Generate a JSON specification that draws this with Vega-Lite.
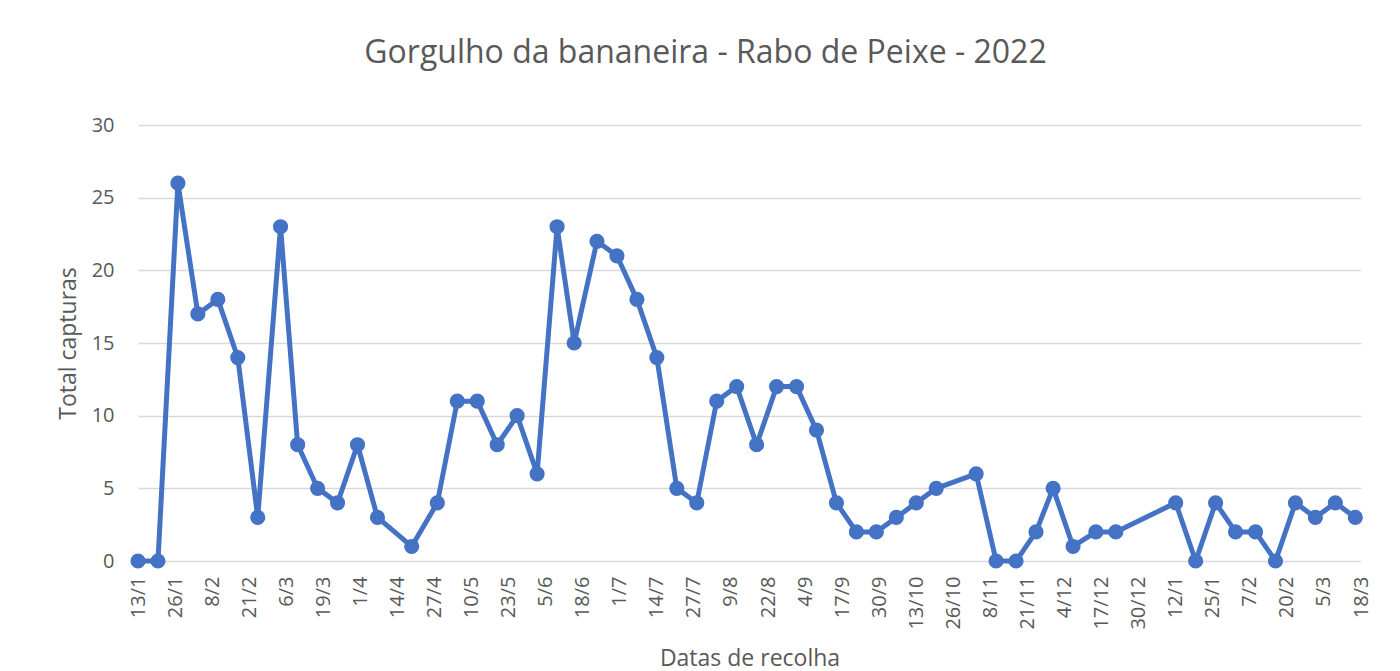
{
  "$schema": "https://vega.github.io/schema/vega-lite/v6.json",
  "autosize": {"type": "none"},
  "width": 1223,
  "height": 436,
  "padding": {"left": 138, "top": 125, "right": 39, "bottom": 110},
  "background": "white",
  "config": {
    "font": "Open Sans",
    "view": {"stroke": null}
  },
  "title": {
    "text": "Gorgulho da bananeira - Rabo de Peixe - 2022",
    "font": "Open Sans",
    "fontSize": 32,
    "fontWeight": "normal",
    "color": "#595959",
    "anchor": "middle",
    "frame": "group",
    "baseline": "alphabetic",
    "dx": -44,
    "offset": 20
  },
  "data": {
    "values": [
      {"data": "2022-01-13", "capturas": 0},
      {"data": "2022-01-20", "capturas": 0},
      {"data": "2022-01-27", "capturas": 26},
      {"data": "2022-02-03", "capturas": 17},
      {"data": "2022-02-10", "capturas": 18},
      {"data": "2022-02-17", "capturas": 14},
      {"data": "2022-02-24", "capturas": 3},
      {"data": "2022-03-04", "capturas": 23},
      {"data": "2022-03-10", "capturas": 8},
      {"data": "2022-03-17", "capturas": 5},
      {"data": "2022-03-24", "capturas": 4},
      {"data": "2022-03-31", "capturas": 8},
      {"data": "2022-04-07", "capturas": 3},
      {"data": "2022-04-19", "capturas": 1},
      {"data": "2022-04-28", "capturas": 4},
      {"data": "2022-05-05", "capturas": 11},
      {"data": "2022-05-12", "capturas": 11},
      {"data": "2022-05-19", "capturas": 8},
      {"data": "2022-05-26", "capturas": 10},
      {"data": "2022-06-02", "capturas": 6},
      {"data": "2022-06-09", "capturas": 23},
      {"data": "2022-06-15", "capturas": 15},
      {"data": "2022-06-23", "capturas": 22},
      {"data": "2022-06-30", "capturas": 21},
      {"data": "2022-07-07", "capturas": 18},
      {"data": "2022-07-14", "capturas": 14},
      {"data": "2022-07-21", "capturas": 5},
      {"data": "2022-07-28", "capturas": 4},
      {"data": "2022-08-04", "capturas": 11},
      {"data": "2022-08-11", "capturas": 12},
      {"data": "2022-08-18", "capturas": 8},
      {"data": "2022-08-25", "capturas": 12},
      {"data": "2022-09-01", "capturas": 12},
      {"data": "2022-09-08", "capturas": 9},
      {"data": "2022-09-15", "capturas": 4},
      {"data": "2022-09-22", "capturas": 2},
      {"data": "2022-09-29", "capturas": 2},
      {"data": "2022-10-06", "capturas": 3},
      {"data": "2022-10-13", "capturas": 4},
      {"data": "2022-10-20", "capturas": 5},
      {"data": "2022-11-03", "capturas": 6},
      {"data": "2022-11-10", "capturas": 0},
      {"data": "2022-11-17", "capturas": 0},
      {"data": "2022-11-24", "capturas": 2},
      {"data": "2022-11-30", "capturas": 5},
      {"data": "2022-12-07", "capturas": 1},
      {"data": "2022-12-15", "capturas": 2},
      {"data": "2022-12-22", "capturas": 2},
      {"data": "2023-01-12", "capturas": 4},
      {"data": "2023-01-19", "capturas": 0},
      {"data": "2023-01-26", "capturas": 4},
      {"data": "2023-02-02", "capturas": 2},
      {"data": "2023-02-09", "capturas": 2},
      {"data": "2023-02-16", "capturas": 0},
      {"data": "2023-02-23", "capturas": 4},
      {"data": "2023-03-02", "capturas": 3},
      {"data": "2023-03-09", "capturas": 4},
      {"data": "2023-03-16", "capturas": 3}
    ]
  },
  "encoding": {
    "x": {
      "field": "data",
      "type": "temporal",
      "scale": {
        "type": "utc",
        "domain": [
          {"year": 2022, "month": 1, "date": 13, "utc": true},
          {"year": 2023, "month": 3, "date": 18, "utc": true}
        ]
      },
      "axis": {
        "title": "Datas de recolha",
        "titleFont": "Open Sans",
        "titleFontSize": 23,
        "titleFontWeight": "normal",
        "titleColor": "#595959",
        "titleY": 104,
        "titleBaseline": "alphabetic",
        "format": "%-d/%-m",
        "labelAngle": -90,
        "labelAlign": "right",
        "labelBaseline": "middle",
        "labelFont": "Open Sans",
        "labelFontSize": 20,
        "labelColor": "#595959",
        "labelPadding": 15,
        "labelOverlap": false,
        "labelFlush": false,
        "ticks": false,
        "domain": false,
        "grid": false,
        "values": [
          {"year": 2022, "month": 1, "date": 13, "utc": true},
          {"year": 2022, "month": 1, "date": 26, "utc": true},
          {"year": 2022, "month": 2, "date": 8, "utc": true},
          {"year": 2022, "month": 2, "date": 21, "utc": true},
          {"year": 2022, "month": 3, "date": 6, "utc": true},
          {"year": 2022, "month": 3, "date": 19, "utc": true},
          {"year": 2022, "month": 4, "date": 1, "utc": true},
          {"year": 2022, "month": 4, "date": 14, "utc": true},
          {"year": 2022, "month": 4, "date": 27, "utc": true},
          {"year": 2022, "month": 5, "date": 10, "utc": true},
          {"year": 2022, "month": 5, "date": 23, "utc": true},
          {"year": 2022, "month": 6, "date": 5, "utc": true},
          {"year": 2022, "month": 6, "date": 18, "utc": true},
          {"year": 2022, "month": 7, "date": 1, "utc": true},
          {"year": 2022, "month": 7, "date": 14, "utc": true},
          {"year": 2022, "month": 7, "date": 27, "utc": true},
          {"year": 2022, "month": 8, "date": 9, "utc": true},
          {"year": 2022, "month": 8, "date": 22, "utc": true},
          {"year": 2022, "month": 9, "date": 4, "utc": true},
          {"year": 2022, "month": 9, "date": 17, "utc": true},
          {"year": 2022, "month": 9, "date": 30, "utc": true},
          {"year": 2022, "month": 10, "date": 13, "utc": true},
          {"year": 2022, "month": 10, "date": 26, "utc": true},
          {"year": 2022, "month": 11, "date": 8, "utc": true},
          {"year": 2022, "month": 11, "date": 21, "utc": true},
          {"year": 2022, "month": 12, "date": 4, "utc": true},
          {"year": 2022, "month": 12, "date": 17, "utc": true},
          {"year": 2022, "month": 12, "date": 30, "utc": true},
          {"year": 2023, "month": 1, "date": 12, "utc": true},
          {"year": 2023, "month": 1, "date": 25, "utc": true},
          {"year": 2023, "month": 2, "date": 7, "utc": true},
          {"year": 2023, "month": 2, "date": 20, "utc": true},
          {"year": 2023, "month": 3, "date": 5, "utc": true},
          {"year": 2023, "month": 3, "date": 18, "utc": true}
        ]
      }
    },
    "y": {
      "field": "capturas",
      "type": "quantitative",
      "scale": {"domain": [0, 30], "nice": false, "zero": true},
      "axis": {
        "title": "Total capturas",
        "titleFont": "Open Sans",
        "titleFontSize": 23,
        "titleFontWeight": "normal",
        "titleColor": "#595959",
        "titleX": -70,
        "titleBaseline": "middle",
        "values": [0, 5, 10, 15, 20, 25, 30],
        "labelFont": "Open Sans",
        "labelFontSize": 20,
        "labelColor": "#595959",
        "labelPadding": 24,
        "ticks": false,
        "domain": false,
        "grid": true,
        "gridColor": "#d9d9d9",
        "gridWidth": 1.5
      }
    }
  },
  "layer": [
    {
      "mark": {"type": "line", "color": "#4472C4", "strokeWidth": 5, "strokeJoin": "round"}
    },
    {
      "mark": {"type": "point", "shape": "circle", "filled": true, "opacity": 1, "color": "#4472C4", "size": 230}
    }
  ]
}
